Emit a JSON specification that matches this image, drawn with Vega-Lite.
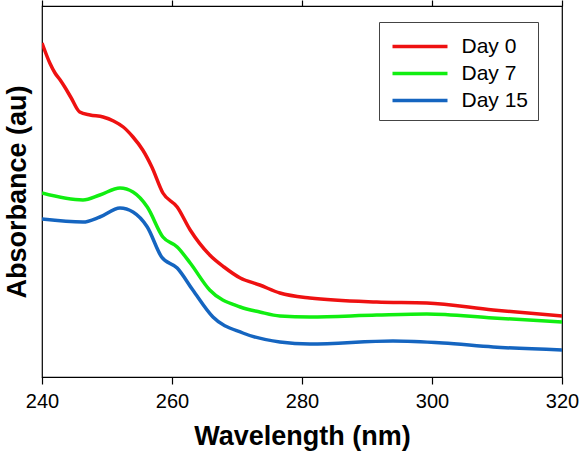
{
  "$schema": "https://vega.github.io/schema/vega-lite/v6.json",
  "width": 520,
  "height": 371,
  "autosize": {"type": "none"},
  "padding": {"left": 42, "top": 6, "right": 18, "bottom": 76},
  "background": "white",
  "config": {
    "view": {"stroke": "black", "strokeWidth": 1.2},
    "font": "Liberation Sans"
  },
  "data": {
    "values": [
      {"wl": 240, "a": 3.34, "s": "Day 0"},
      {"wl": 241.2, "a": 3.14, "s": "Day 0"},
      {"wl": 242, "a": 3.04, "s": "Day 0"},
      {"wl": 242.8, "a": 2.97, "s": "Day 0"},
      {"wl": 243.5, "a": 2.9, "s": "Day 0"},
      {"wl": 244.5, "a": 2.79, "s": "Day 0"},
      {"wl": 245.8, "a": 2.65, "s": "Day 0"},
      {"wl": 247.4, "a": 2.62, "s": "Day 0"},
      {"wl": 249.4, "a": 2.6, "s": "Day 0"},
      {"wl": 251, "a": 2.56, "s": "Day 0"},
      {"wl": 252.5, "a": 2.5, "s": "Day 0"},
      {"wl": 254, "a": 2.4, "s": "Day 0"},
      {"wl": 255.5, "a": 2.27, "s": "Day 0"},
      {"wl": 256.9, "a": 2.1, "s": "Day 0"},
      {"wl": 258.6, "a": 1.84, "s": "Day 0"},
      {"wl": 260.8, "a": 1.7, "s": "Day 0"},
      {"wl": 262.8, "a": 1.47, "s": "Day 0"},
      {"wl": 265.8, "a": 1.22, "s": "Day 0"},
      {"wl": 268, "a": 1.1, "s": "Day 0"},
      {"wl": 270.5, "a": 0.99, "s": "Day 0"},
      {"wl": 273.5, "a": 0.92, "s": "Day 0"},
      {"wl": 276.6, "a": 0.84, "s": "Day 0"},
      {"wl": 281.2, "a": 0.79, "s": "Day 0"},
      {"wl": 291.5, "a": 0.75, "s": "Day 0"},
      {"wl": 299.2, "a": 0.74, "s": "Day 0"},
      {"wl": 309.4, "a": 0.67, "s": "Day 0"},
      {"wl": 320, "a": 0.61, "s": "Day 0"},
      {"wl": 240, "a": 1.84, "s": "Day 7"},
      {"wl": 246.3, "a": 1.77, "s": "Day 7"},
      {"wl": 248.9, "a": 1.82, "s": "Day 7"},
      {"wl": 252, "a": 1.89, "s": "Day 7"},
      {"wl": 254, "a": 1.85, "s": "Day 7"},
      {"wl": 256.2, "a": 1.7, "s": "Day 7"},
      {"wl": 258.6, "a": 1.4, "s": "Day 7"},
      {"wl": 260.8, "a": 1.3, "s": "Day 7"},
      {"wl": 262.8, "a": 1.14, "s": "Day 7"},
      {"wl": 265.8, "a": 0.87, "s": "Day 7"},
      {"wl": 270.5, "a": 0.7, "s": "Day 7"},
      {"wl": 273.5, "a": 0.65, "s": "Day 7"},
      {"wl": 276.6, "a": 0.61, "s": "Day 7"},
      {"wl": 281.2, "a": 0.6, "s": "Day 7"},
      {"wl": 291.5, "a": 0.62, "s": "Day 7"},
      {"wl": 299.2, "a": 0.63, "s": "Day 7"},
      {"wl": 309.4, "a": 0.59, "s": "Day 7"},
      {"wl": 320, "a": 0.55, "s": "Day 7"},
      {"wl": 240, "a": 1.58, "s": "Day 15"},
      {"wl": 246.3, "a": 1.55, "s": "Day 15"},
      {"wl": 248.9, "a": 1.6, "s": "Day 15"},
      {"wl": 252, "a": 1.69, "s": "Day 15"},
      {"wl": 254, "a": 1.65, "s": "Day 15"},
      {"wl": 256.2, "a": 1.5, "s": "Day 15"},
      {"wl": 258.4, "a": 1.2, "s": "Day 15"},
      {"wl": 260.8, "a": 1.09, "s": "Day 15"},
      {"wl": 263.2, "a": 0.87, "s": "Day 15"},
      {"wl": 266.3, "a": 0.6, "s": "Day 15"},
      {"wl": 270.9, "a": 0.44, "s": "Day 15"},
      {"wl": 276.6, "a": 0.35, "s": "Day 15"},
      {"wl": 281.2, "a": 0.33, "s": "Day 15"},
      {"wl": 294, "a": 0.36, "s": "Day 15"},
      {"wl": 301.7, "a": 0.34, "s": "Day 15"},
      {"wl": 309.4, "a": 0.3, "s": "Day 15"},
      {"wl": 320, "a": 0.27, "s": "Day 15"}
    ]
  },
  "layer": [
    {
      "mark": {"type": "line", "strokeWidth": 3.5, "interpolate": "monotone", "clip": true},
      "encoding": {
        "x": {
          "field": "wl",
          "type": "quantitative",
          "scale": {"domain": [240, 320], "nice": false, "zero": false},
          "axis": {
            "orient": "bottom",
            "values": [240, 260, 280, 300, 320],
            "title": "Wavelength (nm)",
            "titleFontSize": 27,
            "titleFontWeight": "bold",
            "titleColor": "black",
            "titlePadding": 12,
            "labelFontSize": 20,
            "labelColor": "black",
            "labelPadding": 7,
            "labelFlush": false,
            "tickSize": 7,
            "tickColor": "black",
            "tickWidth": 1.2,
            "domain": false,
            "grid": false
          }
        },
        "y": {
          "field": "a",
          "type": "quantitative",
          "scale": {"domain": [0, 3.71], "nice": false, "zero": false},
          "axis": {
            "title": "Absorbance (au)",
            "titleFontSize": 27,
            "titleFontWeight": "bold",
            "titleColor": "black",
            "titlePadding": 11,
            "labels": false,
            "ticks": false,
            "domain": false,
            "grid": false
          }
        },
        "color": {
          "field": "s",
          "type": "nominal",
          "sort": ["Day 0", "Day 7", "Day 15"],
          "scale": {"domain": ["Day 0", "Day 7", "Day 15"], "range": ["#ee1111", "#11ee11", "#1565c0"]},
          "legend": {
            "title": null,
            "orient": "none",
            "legendX": 337,
            "legendY": 16,
            "symbolType": "M-2,0H2",
            "symbolSize": 756,
            "symbolStrokeWidth": 3.5,
            "symbolOffset": 16.5,
            "labelFontSize": 21,
            "labelColor": "black",
            "labelOffset": 26,
            "rowPadding": 1,
            "padding": 9,
            "strokeColor": "#444444",
            "fillColor": "white"
          }
        }
      }
    },
    {
      "mark": {"type": "point", "opacity": 0},
      "encoding": {
        "x": {
          "field": "wl",
          "type": "quantitative",
          "axis": {
            "orient": "top",
            "values": [240, 260, 280, 300, 320],
            "title": null,
            "labels": false,
            "tickSize": 6,
            "tickColor": "black",
            "tickWidth": 1.2,
            "domain": false,
            "grid": false
          }
        },
        "y": {"field": "a", "type": "quantitative"}
      }
    }
  ],
  "resolve": {"axis": {"x": "independent"}}
}
